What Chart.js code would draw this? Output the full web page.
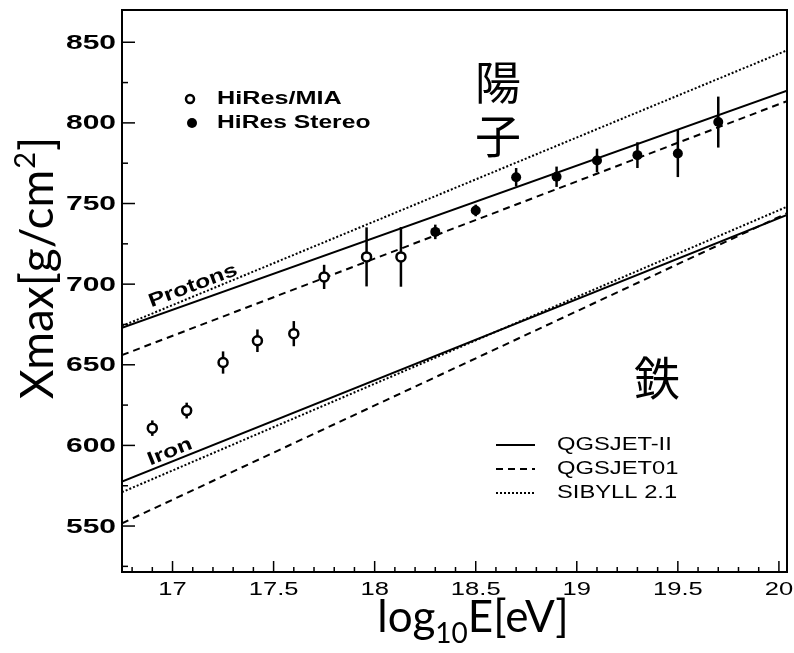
<!DOCTYPE html>
<html>
<head>
<meta charset="utf-8">
<script src="https://cdn.jsdelivr.net/npm/chart.js@4"></script>
<style>
  html, body { margin: 0; background: #fff; }
  #wrap { width: 794px; height: 653px; }
</style>
</head>
<body>
<div id="wrap"><canvas id="c" width="794" height="653"></canvas></div>
<script>
/* Xmax vs log10E: HiRes/MIA + HiRes Stereo points against proton / iron model lines. */

// HiRes/MIA (open circles)
const miaE   = [16.90, 17.07, 17.25, 17.42, 17.60, 17.75, 17.96, 18.13];
const miaX   = [610.7, 621.6, 651.4, 664.9, 669.3, 704.5, 716.9, 716.9];
const miaErr = [4.8, 4.9, 6.9, 7.0, 7.8, 7.5, 18.3, 18.5];
// HiRes Stereo (filled circles)
const stE    = [18.30, 18.50, 18.70, 18.90, 19.10, 19.30, 19.50, 19.70];
const stX    = [732.4, 745.7, 766.3, 766.6, 776.7, 780.0, 781.0, 800.5];
const stErr  = [4.5, 3.6, 5.7, 6.3, 7.3, 8.0, 14.6, 15.8];
// model lines, values at the two ends of lineE
const lineE  = [16.75, 20.04];
const pQII   = [673, 820];     // protons QGSJET-II
const pQ01   = [656, 813.5];   // protons QGSJET01
const pSib   = [674, 845];     // protons SIBYLL 2.1
const fQII   = [577.5, 743];   // iron QGSJET-II
const fQ01   = [551.7, 744];   // iron QGSJET01
const fSib   = [571, 748];     // iron SIBYLL 2.1
// axis labels
const xTicks = [17, 17.5, 18, 18.5, 19, 19.5, 20];
const xTickLabels = ["17", "17.5", "18", "18.5", "19", "19.5", "20"];
const yTicks = [550, 600, 650, 700, 750, 800, 850];

const pts = (xs, ys) => xs.map((x, i) => ({ x, y: ys[i] }));
const DASH = [7, 5], DOT = [2, 2];
const lineDs = (ys, dash) => ({
  type: "line", data: pts(lineE, ys), borderColor: "#000", borderWidth: 2,
  borderDash: dash, pointRadius: 0, fill: false, order: 2,
});

// text squeezed out sideways, like the original's wide print
function sText(ctx, txt, x, y, font, sx, align, rot) {
  ctx.save();
  ctx.translate(x, y);
  if (rot) ctx.rotate(rot);
  ctx.scale(sx, 1);
  ctx.font = font; ctx.textAlign = align; ctx.textBaseline = "middle"; ctx.fillStyle = "#000";
  ctx.fillText(txt, 0, 0);
  ctx.restore();
}

const errPlugin = {
  id: "errbars",
  beforeDatasetsDraw(chart) {
    const { ctx, scales: { x, y } } = chart;
    ctx.save();
    ctx.strokeStyle = "#000"; ctx.lineWidth = 2.5;
    const bars = (es, xs, er) => es.forEach((e, i) => {
      const px = x.getPixelForValue(e);
      ctx.beginPath();
      ctx.moveTo(px, y.getPixelForValue(xs[i] - er[i]));
      ctx.lineTo(px, y.getPixelForValue(xs[i] + er[i]));
      ctx.stroke();
    });
    bars(miaE, miaX, miaErr);
    bars(stE, stX, stErr);
    ctx.restore();
  },
};

const decoPlugin = {
  id: "deco",
  afterDraw(chart) {
    const { ctx, chartArea: a, scales: { x, y } } = chart;
    ctx.save();
    // frame
    ctx.strokeStyle = "#000"; ctx.lineWidth = 2;
    ctx.strokeRect(a.left, a.top, a.right - a.left, a.bottom - a.top);
    // inward ticks
    ctx.lineWidth = 1.5;
    for (let k = 168; k <= 200; k++) {
      const px = x.getPixelForValue(k / 10), len = k % 5 === 0 ? 11 : 5;
      ctx.beginPath(); ctx.moveTo(px, a.bottom); ctx.lineTo(px, a.bottom - len); ctx.stroke();
    }
    for (let v = 525; v <= 850; v += 25) {
      const py = y.getPixelForValue(v), len = v % 50 === 0 ? 13 : 6;
      ctx.beginPath(); ctx.moveTo(a.left, py); ctx.lineTo(a.left + len, py); ctx.stroke();
    }
    // tick labels
    xTicks.forEach((v, i) =>
      sText(ctx, xTickLabels[i], x.getPixelForValue(v), 590, "18px 'Liberation Sans'", 1.42, "center"));
    yTicks.forEach(v =>
      sText(ctx, String(v), 116, y.getPixelForValue(v) + 1, "bold 20px 'Liberation Sans'", 1.5, "right"));

    // top-left legend
    ctx.lineWidth = 2.5; ctx.strokeStyle = "#000";
    ctx.beginPath(); ctx.arc(190, 99, 4, 0, 2 * Math.PI); ctx.fillStyle = "#fff"; ctx.fill(); ctx.stroke();
    ctx.beginPath(); ctx.arc(192, 123, 5, 0, 2 * Math.PI); ctx.fillStyle = "#000"; ctx.fill();
    sText(ctx, "HiRes/MIA", 217, 99, "bold 18px 'Liberation Sans'", 1.4, "left");
    sText(ctx, "HiRes Stereo", 217, 123, "bold 18px 'Liberation Sans'", 1.37, "left");

    // bottom-right legend
    const leg = [["QGSJET-II", []], ["QGSJET01", DASH], ["SIBYLL 2.1", DOT]];
    leg.forEach(([t, d], i) => {
      const yy = 445 + 24 * i;
      ctx.setLineDash(d); ctx.lineWidth = 2;
      ctx.beginPath(); ctx.moveTo(496, yy); ctx.lineTo(535, yy); ctx.stroke();
      ctx.setLineDash([]);
      sText(ctx, t, 557, yy, "19px 'Liberation Sans'", 1.25, "left");
    });

    // line labels
    sText(ctx, "Protons", 193, 286, "bold 19px 'Liberation Sans'", 1.3, "center", -0.36);
    sText(ctx, "Iron", 170, 452, "bold 19px 'Liberation Sans'", 1.3, "center", -0.38);

    // kanji
    ctx.font = "46px 'Noto Sans CJK JP'"; ctx.textAlign = "center"; ctx.textBaseline = "middle";
    ctx.fillStyle = "#000";
    ctx.fillText("陽", 498, 82);
    ctx.fillText("子", 498, 136);
    ctx.fillText("鉄", 657, 378);

    // axis titles
    const big = "44px Lato", small = "28px Lato";
    // x: log10E[eV]
    ctx.textAlign = "left"; ctx.textBaseline = "alphabetic";
    ctx.font = big; const w1 = ctx.measureText("log").width, w3 = ctx.measureText("E[eV]").width;
    ctx.font = small; const w2 = ctx.measureText("10").width;
    let sx = 473 - (w1 + w2 + w3) / 2;
    ctx.font = big; ctx.fillText("log", sx, 632);
    ctx.font = small; ctx.fillText("10", sx + w1, 643);
    ctx.font = big; ctx.fillText("E[eV]", sx + w1 + w2, 632);
    // y: Xmax[g/cm2]
    const bigY = "46px Lato", smallY = "29px Lato";
    ctx.save();
    ctx.translate(53, 269); ctx.rotate(-Math.PI / 2);
    ctx.font = bigY; const v1 = ctx.measureText("Xmax[g/cm").width, v3 = ctx.measureText("]").width;
    ctx.font = smallY; const v2 = ctx.measureText("2").width;
    let sy = -(v1 + v2 + v3) / 2;
    ctx.font = bigY; ctx.fillText("Xmax[g/cm", sy, 0);
    ctx.font = smallY; ctx.fillText("2", sy + v1 + 1, -18);
    ctx.font = bigY; ctx.fillText("]", sy + v1 + v2 + 2, 0);
    ctx.restore();

    ctx.restore();
  },
};

new Chart(document.getElementById("c"), {
  type: "scatter",
  data: {
    datasets: [
      { label: "HiRes/MIA", data: pts(miaE, miaX), pointStyle: "circle", pointRadius: 4.5,
        pointBackgroundColor: "#fff", pointBorderColor: "#000", pointBorderWidth: 2.5, order: 0 },
      { label: "HiRes Stereo", data: pts(stE, stX), pointStyle: "circle", pointRadius: 5,
        pointBackgroundColor: "#000", pointBorderColor: "#000", pointBorderWidth: 0, order: 0 },
      lineDs(pQII, []), lineDs(pQ01, DASH), lineDs(pSib, DOT),
      lineDs(fQII, []), lineDs(fQ01, DASH), lineDs(fSib, DOT),
    ],
  },
  options: {
    responsive: false, animation: false, events: [],
    layout: { padding: { left: 122, right: 6, top: 10, bottom: 81 } },
    plugins: { legend: { display: false }, tooltip: { enabled: false } },
    scales: {
      x: { type: "linear", display: false, min: 16.75, max: 20.04 },
      y: { type: "linear", display: false, min: 521.5, max: 870 },
    },
  },
  plugins: [errPlugin, decoPlugin],
});
</script>
</body>
</html>
